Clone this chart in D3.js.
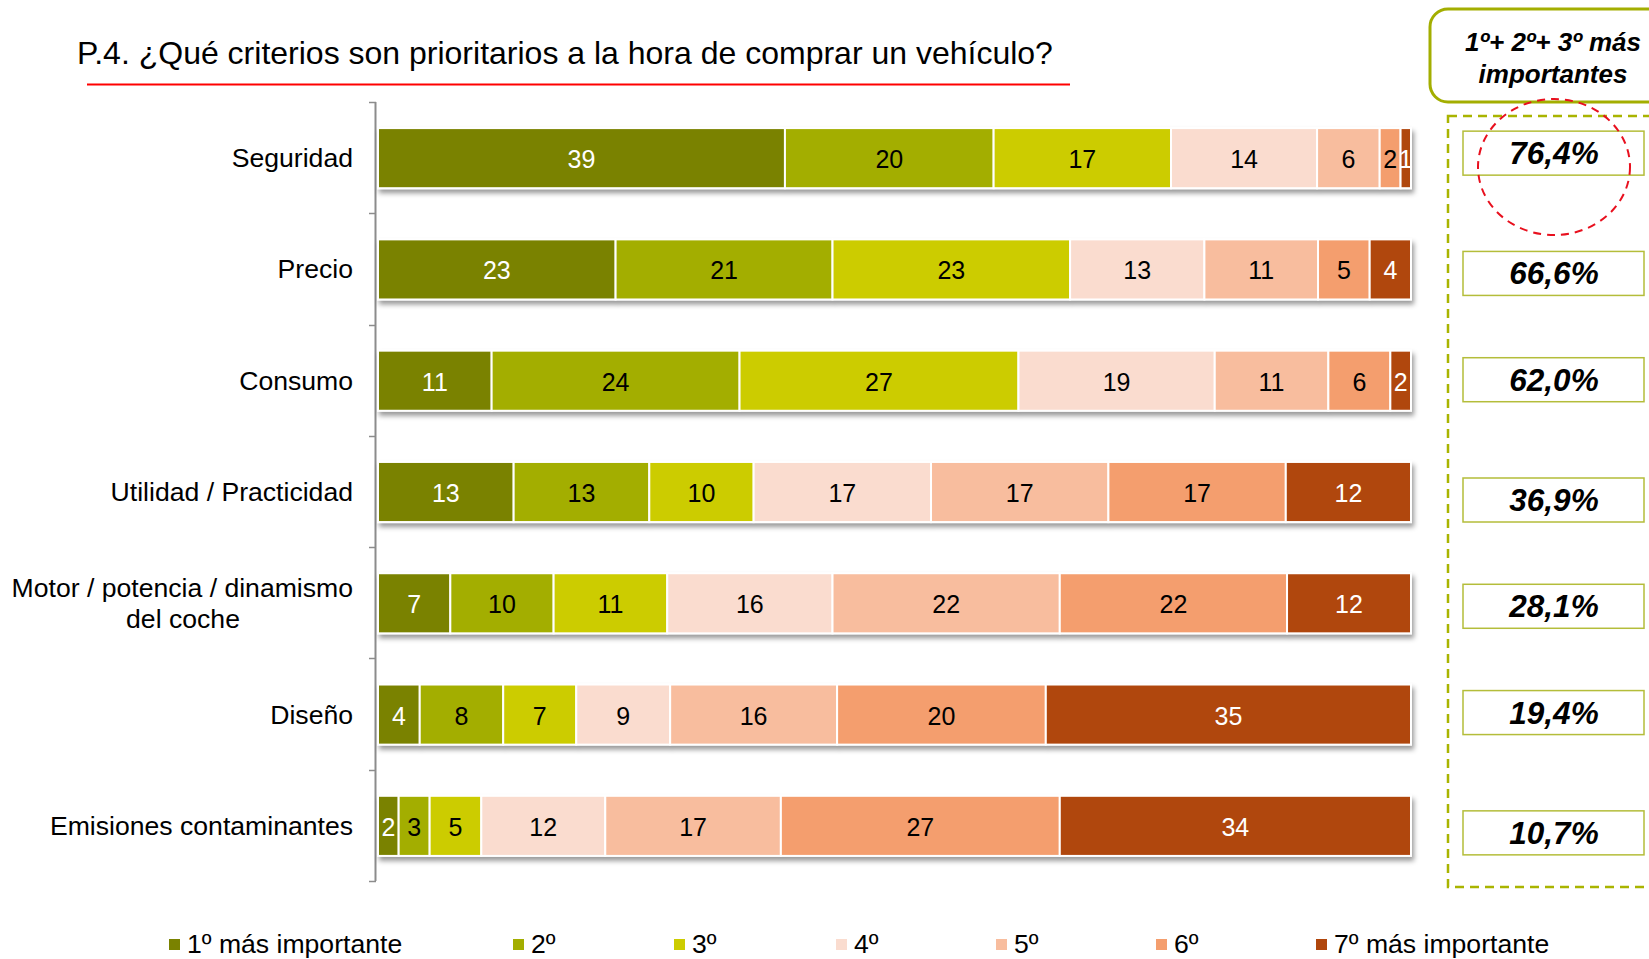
<!DOCTYPE html>
<html>
<head>
<meta charset="utf-8">
<script src="https://cdn.jsdelivr.net/npm/d3@7"></script>
<style>
  body { margin: 0; background: #fff; }
  svg { font-family: "Liberation Sans", Arial, sans-serif; }
</style>
</head>
<body>
<svg id="chart" width="1649" height="959"></svg>
<script>
// categories (top to bottom)
var categories = ["Seguridad", "Precio", "Consumo", "Utilidad / Practicidad",
  "Motor / potencia / dinamismo del coche", "Diseño", "Emisiones contaminantes"];

// series names
var seriesNames = ["1º más importante", "2º", "3º", "4º", "5º", "6º", "7º más importante"];

// values per series, one per category
var s1 = [39, 23, 11, 13, 7, 4, 2];
var s2 = [20, 21, 24, 13, 10, 8, 3];
var s3 = [17, 23, 27, 10, 11, 7, 5];
var s4 = [14, 13, 19, 17, 16, 9, 12];
var s5 = [6, 11, 11, 17, 22, 16, 17];
var s6 = [2, 5, 6, 17, 22, 20, 27];
var s7 = [1, 4, 2, 12, 12, 35, 34];

// 1º+2º+3º column
var top3 = ["76,4%", "66,6%", "62,0%", "36,9%", "28,1%", "19,4%", "10,7%"];

var colors = ["#7a8200", "#a3ae00", "#cccc00", "#fadccf", "#f8bd9e", "#f49e6e", "#b0460c"];
var labelColors = ["#fff", "#000", "#000", "#000", "#000", "#000", "#fff"];

var series = [s1, s2, s3, s4, s5, s6, s7];

// layout: small vertical nudges of the right-hand boxes (they don't sit exactly on the bars)
var boxNudge = [-5, 4, -1, 8, 3, -2, 7];

var svg = d3.select("#chart");

// shadow for the bars
var defs = svg.append("defs");
var f = defs.append("filter").attr("id", "shadow")
  .attr("x", "-5%").attr("y", "-20%").attr("width", "110%").attr("height", "160%");
f.append("feDropShadow").attr("dx", 2).attr("dy", 4).attr("stdDeviation", 2.5)
  .attr("flood-color", "#000").attr("flood-opacity", 0.4);

// title
svg.append("text")
  .attr("x", 77).attr("y", 64)
  .attr("font-size", 32).attr("fill", "#000")
  .text("P.4. ¿Qué criterios son prioritarios a la hora de comprar un vehículo?");
svg.append("line")
  .attr("x1", 87).attr("x2", 1070).attr("y1", 84.5).attr("y2", 84.5)
  .attr("stroke", "#ff0000").attr("stroke-width", 2);

// scales
var y = d3.scaleBand().domain(categories).range([102.5, 881.5])
  .paddingInner(0.46).paddingOuter(0.23);
var x = d3.scaleLinear().domain([0, 100]).range([378, 1411]);

// stacked data (normalised to 100 per row)
var rows = categories.map(function(c, i) {
  var vals = series.map(function(s) { return s[i]; });
  var total = d3.sum(vals);
  var acc = 0;
  return vals.map(function(v, k) {
    var seg = { cat: c, k: k, v: v, x0: acc / total * 100 };
    acc += v;
    seg.x1 = acc / total * 100;
    return seg;
  });
});

// axis line with ticks at band edges
var step = (881 - 102) / categories.length;
svg.append("line")
  .attr("x1", 375.5).attr("x2", 375.5).attr("y1", 102).attr("y2", 881)
  .attr("stroke", "#8c8c8c").attr("stroke-width", 2);
d3.range(categories.length + 1).forEach(function(i) {
  var ty = Math.round(102 + i * step) + 0.5;
  svg.append("line")
    .attr("x1", 369).attr("x2", 376).attr("y1", ty).attr("y2", ty)
    .attr("stroke", "#8c8c8c").attr("stroke-width", 1.5);
});

// category labels
categories.forEach(function(c) {
  var cy = y(c) + y.bandwidth() / 2;
  var t = svg.append("text")
    .attr("x", 353).attr("text-anchor", "end")
    .attr("font-size", 26.6).attr("fill", "#000");
  if (c.indexOf("Motor") === 0) {
    t.attr("y", cy - 15.5 + 9).text("Motor / potencia / dinamismo");
    svg.append("text").attr("x", 183).attr("y", cy + 15.5 + 9)
      .attr("text-anchor", "middle").attr("font-size", 26.6).attr("fill", "#000")
      .text("del coche");
  } else {
    t.attr("y", cy + 9).text(c);
  }
});

// bars
var g = svg.selectAll(".row").data(rows).enter().append("g")
  .attr("class", "row")
  .attr("filter", "url(#shadow)");

g.selectAll("rect").data(function(d) { return d; }).enter().append("rect")
  .attr("x", function(d) { return x(d.x0); })
  .attr("width", function(d) { return x(d.x1) - x(d.x0); })
  .attr("y", function(d) { return y(d.cat); })
  .attr("height", y.bandwidth())
  .attr("fill", function(d) { return colors[d.k]; })
  .attr("stroke", "#fff").attr("stroke-width", 2);

svg.selectAll(".lbl").data(rows).enter().append("g")
  .selectAll("text").data(function(d) { return d; }).enter().append("text")
  .attr("x", function(d) { return (x(d.x0) + x(d.x1)) / 2; })
  .attr("y", function(d) { return y(d.cat) + y.bandwidth() / 2 + 10; })
  .attr("text-anchor", "middle")
  .attr("font-size", 25)
  .attr("fill", function(d) { return labelColors[d.k]; })
  .text(function(d) { return d.v; });

// header box on the right
svg.append("rect")
  .attr("x", 1430).attr("y", 9).attr("width", 260).attr("height", 93)
  .attr("rx", 18).attr("fill", "#fff")
  .attr("stroke", "#a3ae00").attr("stroke-width", 3);
svg.append("text").attr("x", 1553).attr("y", 51)
  .attr("text-anchor", "middle").attr("font-size", 26)
  .attr("font-weight", "bold").attr("font-style", "italic")
  .text("1º+ 2º+ 3º más");
svg.append("text").attr("x", 1553).attr("y", 83)
  .attr("text-anchor", "middle").attr("font-size", 26)
  .attr("font-weight", "bold").attr("font-style", "italic")
  .text("importantes");

// dashed frame
svg.append("rect")
  .attr("x", 1448).attr("y", 116).attr("width", 260).attr("height", 771)
  .attr("fill", "none").attr("stroke", "#a9b400").attr("stroke-width", 2.5)
  .attr("stroke-dasharray", "9,6");

// value boxes
categories.forEach(function(c, i) {
  var cy = y(c) + y.bandwidth() / 2 + boxNudge[i];
  svg.append("rect")
    .attr("x", 1463).attr("y", cy - 22).attr("width", 181).attr("height", 44)
    .attr("fill", "#fff").attr("stroke", "#b4bd3a").attr("stroke-width", 1.5);
  svg.append("text").attr("x", 1554).attr("y", cy + 11)
    .attr("text-anchor", "middle").attr("font-size", 31.5)
    .attr("font-weight", "bold").attr("font-style", "italic")
    .text(top3[i]);
});

// red dashed circle on the top value
svg.append("ellipse")
  .attr("cx", 1554).attr("cy", 167).attr("rx", 76).attr("ry", 68)
  .attr("fill", "none").attr("stroke", "#e8101e").attr("stroke-width", 2)
  .attr("stroke-dasharray", "8,6");

// legend
var legendX = [169, 513, 674, 836, 996, 1156, 1316];
seriesNames.forEach(function(n, i) {
  svg.append("rect").attr("x", legendX[i]).attr("y", 939)
    .attr("width", 11).attr("height", 11).attr("fill", colors[i]);
  svg.append("text").attr("x", legendX[i] + 18).attr("y", 953)
    .attr("font-size", 26.6).attr("fill", "#000").text(n);
});
</script>
</body>
</html>
